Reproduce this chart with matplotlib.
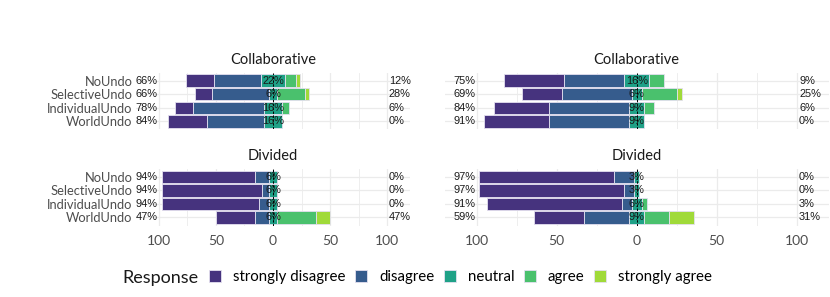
import numpy as np
import matplotlib.pyplot as plt
from matplotlib.patches import Patch

# Likert answers, 32 participants per condition
responses = ["strongly disagree", "disagree", "neutral", "agree", "strongly agree"]
colors = ["#46337E", "#365C8D", "#1FA187", "#4AC16D", "#A0DA39"]
conditions = ["NoUndo", "SelectiveUndo", "IndividualUndo", "WorldUndo"]
n_participants = 32

# counts per condition: SD, D, N, A, SA
left_collab = [[8, 13, 7, 3, 1], [5, 16, 2, 8, 1], [5, 20, 5, 2, 0], [11, 16, 5, 0, 0]]
left_divided = [[26, 4, 2, 0, 0], [28, 2, 2, 0, 0], [27, 3, 2, 0, 0], [11, 4, 2, 11, 4]]
right_collab = [[12, 12, 5, 3, 0], [8, 14, 2, 7, 1], [11, 16, 3, 2, 0], [13, 16, 3, 0, 0]]
right_divided = [[27, 4, 1, 0, 0], [29, 2, 1, 0, 0], [27, 2, 2, 1, 0], [10, 9, 3, 5, 5]]

W, H = 830, 297
TXT = "Lato"
PCT = "Liberation Sans"


def px_axes(fig, x0, x1, ytop, ybot):
	return fig.add_axes([x0 / W, 1 - ybot / H, (x1 - x0) / W, (ybot - ytop) / H])


def likert_panel(ax, counts, title, show_y, show_x):
	pct = np.array(counts, dtype=float) / n_participants * 100
	ypos = np.arange(len(conditions))
	for i, row in enumerate(pct):
		left = -(row[0] + row[1] + row[2] / 2)
		for j, val in enumerate(row):
			if val > 0:
				ax.barh(ypos[i], val, left=left, height=0.92, color=colors[j],
						edgecolor="#e4e0f0", linewidth=0.6, zorder=2)
			left += val
		low = row[0] + row[1]
		high = row[3] + row[4]
		ax.text(-101, ypos[i], "%.0f%%" % low, ha="right", va="center",
				fontsize=7.9, family=PCT, color="#1a1a1a", zorder=4)
		ax.text(101.5, ypos[i], "%.0f%%" % high, ha="left", va="center",
				fontsize=7.9, family=PCT, color="#1a1a1a", zorder=4)
		ax.text(0, ypos[i], "%.0f%%" % row[2], ha="center", va="center",
				fontsize=7.9, family=PCT, color="#1a1a1a", zorder=4)

	ax.axvline(0, color="black", lw=0.7, ls=(0, (2.5, 1.5)), zorder=3)
	ax.set_xlim(-120, 120)
	ax.set_ylim(len(conditions) - 0.4, -0.6)
	ax.set_xticks([-100, -50, 0, 50, 100])
	ax.set_xticks([-75, -25, 25, 75], minor=True)
	ax.set_xticklabels(["100", "50", "0", "50", "100"])
	ax.set_yticks(ypos)
	ax.set_yticklabels(conditions)
	ax.grid(True, which="major", color="#ebebeb", lw=0.9, zorder=0)
	ax.grid(True, which="minor", axis="x", color="#ebebeb", lw=0.6, zorder=0)
	ax.set_axisbelow(True)
	ax.tick_params(which="both", length=0)
	ax.tick_params(axis="x", pad=7, labelsize=10, labelcolor="#4d4d4d",
				   labelbottom=show_x)
	ax.tick_params(axis="y", pad=2.5, labelsize=9.3, labelcolor="#4d4d4d",
				   labelleft=show_y)
	for lab in ax.get_xticklabels() + ax.get_yticklabels():
		lab.set_family(TXT)
	for s in ax.spines.values():
		s.set_visible(False)
	ax.set_title(title, fontsize=10.5, family=TXT, color="#1a1a1a", pad=6)


fig = plt.figure(figsize=(W / 100, H / 100), dpi=100)

ax1 = px_axes(fig, 136, 410, 72.6, 129.4)
ax2 = px_axes(fig, 444.7, 828.7, 72.6, 129.4)
ax3 = px_axes(fig, 136, 410, 168.7, 225.5)
ax4 = px_axes(fig, 444.7, 828.7, 168.7, 225.5)

likert_panel(ax1, left_collab, "Collaborative", True, False)
likert_panel(ax2, right_collab, "Collaborative", False, False)
likert_panel(ax3, left_divided, "Divided", True, True)
likert_panel(ax4, right_divided, "Divided", False, True)

fig.text(122 / W, 1 - 278 / H, "Response", fontsize=13, family=TXT,
		 color="#1a1a1a", ha="left", va="center")
handles = [Patch(facecolor=c, edgecolor="#e4e0f0", lw=0.6) for c in colors]
fig.legend(handles, responses, loc="center left", bbox_to_anchor=(209 / W, 1 - 277 / H),
		   ncol=5, frameon=False, handlelength=0.83, handleheight=0.83,
		   handletextpad=0.77, columnspacing=0.63, borderaxespad=0, borderpad=0,
		   prop={"family": TXT, "size": 10.8})

fig.savefig("out.png", dpi=100)
